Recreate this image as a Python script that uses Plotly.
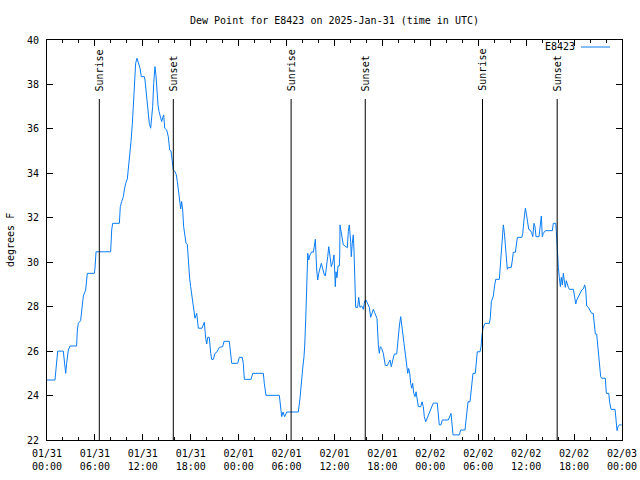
import datetime as dt
import plotly.graph_objects as go

# ---- data ----
start = dt.datetime(2025, 1, 31, 0, 0)

hours_since_start = [
    0.0, 1.0, 1.13, 1.34, 2.04, 2.17, 2.34, 2.46, 2.67, 2.88, 3.71, 3.8, 3.92, 4.21, 4.42, 4.55, 4.84, 5.05,
    5.93, 6.01, 6.14, 7.97, 8.1, 8.22, 9.06, 9.18, 9.35, 9.56, 9.68, 9.85, 10.06, 10.27, 10.39, 10.52, 10.69,
    10.81, 10.94, 11.1, 11.27, 11.44, 11.65, 11.81, 12.19, 12.27, 12.4, 12.56, 12.69, 12.81, 12.98, 13.1, 13.23,
    13.36, 13.52, 13.65, 13.78, 13.9, 14.03, 14.19, 14.36, 14.49, 14.61, 14.74, 14.99, 15.19, 15.36, 15.53, 15.69,
    15.82, 16.03, 16.19, 16.32, 16.44, 16.61, 16.74, 16.86, 16.99, 17.11, 17.28, 17.41, 17.57, 17.69, 17.86,
    17.99, 18.12, 18.28, 18.45, 18.53, 18.75, 18.95, 19.41, 19.57, 19.7, 19.87, 20.0, 20.12, 20.32, 20.5, 20.62,
    20.83, 21.04, 21.25, 21.45, 21.58, 22.0, 22.16, 22.83, 23.0, 23.13, 23.88, 24.08, 24.45, 24.58, 24.71, 25.55,
    25.76, 27.09, 27.21, 27.42, 29.09, 29.21, 29.3, 29.39, 29.55, 29.76, 30.02, 31.47, 31.68, 31.85, 32.02, 32.18,
    32.27, 32.4, 32.52, 32.65, 32.77, 32.93, 33.15, 33.35, 33.47, 33.6, 33.77, 33.9, 34.02, 34.19, 34.35, 34.53,
    34.69, 34.85, 35.03, 35.15, 35.28, 35.44, 35.6, 35.78, 35.94, 36.1, 36.19, 36.31, 36.44, 36.6, 36.65, 36.69,
    36.9, 37.1, 37.44, 37.6, 37.73, 37.85, 38.03, 38.1, 38.23, 38.35, 38.44, 38.57, 38.65, 38.9, 39.03, 39.19,
    39.41, 39.61, 39.78, 39.94, 40.11, 40.36, 40.53, 40.7, 40.86, 41.03, 41.2, 41.32, 41.49, 41.61, 41.74, 41.91,
    42.11, 42.24, 42.36, 42.61, 42.79, 42.95, 43.11, 43.36, 43.49, 43.79, 43.95, 44.12, 44.29, 44.42, 44.54,
    44.71, 44.87, 45.04, 45.17, 45.29, 45.42, 45.54, 45.67, 45.79, 45.92, 46.08, 46.21, 46.37, 46.5, 46.8, 46.96,
    47.12, 47.25, 47.42, 47.67, 47.96, 48.25, 48.37, 48.87, 49.0, 49.12, 49.33, 49.5, 50.25, 50.43, 50.59, 50.67,
    50.84, 51.63, 51.8, 52.34, 52.47, 52.59, 52.72, 52.97, 53.09, 53.22, 53.34, 53.63, 53.76, 53.88, 54.22, 54.35,
    54.47, 54.6, 54.76, 54.85, 55.39, 55.51, 55.64, 55.89, 56.06, 56.19, 56.64, 56.81, 56.94, 57.07, 57.14, 57.27,
    57.39, 57.52, 57.64, 57.77, 58.14, 58.27, 58.39, 58.65, 58.77, 58.9, 59.45, 59.57, 59.73, 59.9, 60.02, 60.15,
    60.32, 60.48, 60.69, 60.82, 60.98, 61.11, 61.23, 61.61, 61.77, 61.9, 62.02, 62.15, 62.4, 63.28, 63.4, 63.7,
    63.78, 63.86, 63.95, 64.03, 64.15, 64.28, 64.4, 64.53, 64.65, 64.78, 64.9, 65.03, 65.15, 65.28, 65.41, 65.91,
    66.08, 66.21, 66.33, 66.53, 66.74, 66.96, 67.16, 67.33, 67.46, 67.58, 67.78, 67.99, 68.2, 68.4, 68.53, 68.66,
    68.83, 68.96, 69.08, 69.21, 69.33, 69.46, 69.91, 70.04, 70.34, 70.46, 70.63, 71.13, 71.25, 71.38, 71.5,
    71.66, 71.96,
]

dew_point_f = [
    24.7, 24.7, 25.2, 26.0, 26.0, 25.5, 25.0, 25.45, 26.05, 26.23, 26.23, 26.95, 27.25, 27.37, 28.0, 28.48, 28.75, 29.5,
    29.5, 29.73, 30.47, 30.47, 31.45, 31.75, 31.75, 32.5, 32.73, 32.95, 33.25, 33.55, 33.75, 34.45, 34.98, 35.43, 36.25,
    37.22, 38.2, 38.95, 39.18, 38.95, 38.73, 38.35, 38.35, 38.2, 37.75, 37.15, 36.7, 36.25, 36.03, 36.4, 37.0,
    38.05, 38.8, 38.4, 37.6, 37.07, 36.78, 36.55, 36.33, 36.5, 36.63, 36.03, 35.95, 35.65, 35.05, 35.0, 34.53,
    34.15, 34.07, 33.93, 33.63, 33.18, 32.73, 32.4, 32.73, 32.35, 31.6, 31.23, 30.85, 30.8, 30.1, 29.28,
    28.9, 28.53, 28.08, 27.63, 27.48, 27.7, 27.03, 27.03, 27.18, 27.3, 26.58, 26.32, 26.62, 26.62, 25.9, 25.63,
    25.63, 25.9, 25.95, 26.05, 26.17, 26.2, 26.44, 26.44, 25.72, 25.45, 25.45, 25.72, 25.72, 25.45, 24.73, 24.73,
    25.0, 25.0, 24.55, 24.01, 24.01, 23.72, 23.27, 23.05, 23.26, 23.05, 23.26, 23.26, 23.88, 24.7, 25.23, 25.75,
    26.23, 27.48, 29.43, 30.4, 30.1, 30.33, 30.47, 30.45, 30.7, 31.03, 29.65, 29.2, 29.5, 29.7, 29.95, 29.7,
    29.47, 29.38, 29.8, 30.25, 30.7, 30.3, 29.8, 30.0, 30.33, 28.9, 29.57, 29.3, 29.83, 29.83, 30.28, 31.68,
    31.15, 30.78, 30.7, 30.65, 31.38, 31.68, 30.9, 30.25, 30.85, 31.23, 30.55, 28.83, 27.97, 27.97, 28.42, 27.97,
    28.03, 27.88, 28.26, 28.3, 28.15, 27.97, 27.52, 27.67, 27.88, 27.73, 27.52, 27.47, 26.28, 25.9, 26.2, 26.13,
    25.9, 25.6, 25.35, 25.35, 25.53, 25.6, 25.3, 25.63, 25.87, 25.87, 26.65, 27.13, 27.55, 27.18, 26.65,
    26.13, 25.9, 25.33, 25.0, 25.22, 25.0, 24.55, 24.33, 24.55, 24.1, 23.95, 24.17, 23.8, 23.5, 23.5, 23.72,
    23.5, 23.05, 22.82, 23.05, 23.27, 23.57, 23.66, 23.66, 23.05, 22.68, 22.68, 22.9, 22.9, 23.05, 23.2, 22.9,
    22.23, 22.23, 22.45, 22.45, 22.82, 23.43, 23.72, 23.72, 24.1, 24.7, 25.0, 25.0, 25.52, 25.97, 25.97, 26.2,
    26.73, 27.03, 27.18, 27.25, 27.25, 27.5, 28.22, 28.48, 28.98, 29.23, 29.23, 29.98, 30.63, 31.3, 31.68, 31.33,
    30.78, 30.03, 29.68, 29.77, 29.77, 30.1, 30.45, 30.45, 30.78, 31.12, 31.12, 31.3, 31.9, 32.43, 32.2, 31.75,
    31.48, 31.45, 31.33, 31.15, 31.75, 31.6, 31.15, 31.15, 31.75, 32.08, 31.15, 31.3, 31.42, 31.42, 31.75, 31.75,
    31.38, 30.78, 30.18, 29.77, 29.32, 28.9, 29.32, 28.98, 29.5, 28.98, 28.87, 29.17, 28.98, 28.87, 28.78, 28.78,
    28.42, 28.12, 28.3, 28.45, 28.6, 28.75, 28.8, 28.98, 28.75, 28.03, 27.97, 27.85, 27.7, 27.7, 27.1, 26.77,
    26.77, 26.28, 25.6, 25.15, 24.85, 24.78, 24.78, 24.1, 24.1, 23.68, 23.38, 23.38, 22.93, 22.42, 22.6,
    22.68, 22.68,
]

sun_event_labels = ["Sunrise", "Sunset", "Sunrise", "Sunset", "Sunrise", "Sunset"]
sun_event_times = ["2025-01-31 06:33", "2025-01-31 15:49", "2025-02-01 06:34",
                   "2025-02-01 15:51", "2025-02-02 06:32", "2025-02-02 15:53"]

x_tick_times = ["2025-01-31 00:00", "2025-01-31 06:00", "2025-01-31 12:00", "2025-01-31 18:00",
                "2025-02-01 00:00", "2025-02-01 06:00", "2025-02-01 12:00", "2025-02-01 18:00",
                "2025-02-02 00:00", "2025-02-02 06:00", "2025-02-02 12:00", "2025-02-02 18:00",
                "2025-02-03 00:00"]
x_tick_labels = ["01/31<br>00:00", "01/31<br>06:00", "01/31<br>12:00", "01/31<br>18:00",
                 "02/01<br>00:00", "02/01<br>06:00", "02/01<br>12:00", "02/01<br>18:00",
                 "02/02<br>00:00", "02/02<br>06:00", "02/02<br>12:00", "02/02<br>18:00",
                 "02/03<br>00:00"]
y_ticks = [22, 24, 26, 28, 30, 32, 34, 36, 38, 40]

series_name = "E8423"
title_text = "Dew Point for E8423 on 2025-Jan-31 (time in UTC)"
y_title = "degrees F"

# ---- figure ----
FONT = "DejaVu Sans Mono"
LINE_COLOR = "#0a7cf5"

times = [start + dt.timedelta(hours=h) for h in hours_since_start]

fig = go.Figure()
fig.add_trace(go.Scatter(x=times, y=dew_point_f, mode="lines", name=series_name,
                         line=dict(color=LINE_COLOR, width=1), showlegend=False))

shapes = []
annotations = []
for lbl, t in zip(sun_event_labels, sun_event_times):
    shapes.append(dict(type="line", xref="x", yref="paper", x0=t, x1=t, y0=0, y1=0.8525,
                       line=dict(color="black", width=1)))
    annotations.append(dict(text=lbl, x=t, xref="x", y=0.867, yref="paper", xanchor="center",
                            yanchor="bottom", textangle=-90, showarrow=False,
                            font=dict(family=FONT, size=10, color="black")))

# legend key (gnuplot style: text then sample line)
annotations.append(dict(text=series_name, x=(577 - 47) / 575, xref="paper", y=(440 - 47) / 400,
                        yref="paper", xanchor="right", yanchor="middle", showarrow=False,
                        font=dict(family=FONT, size=10, color="black")))
shapes.append(dict(type="line", xref="paper", yref="paper", x0=(581 - 47) / 575, x1=(610 - 47) / 575,
                   y0=(440 - 47) / 400, y1=(440 - 47) / 400, line=dict(color=LINE_COLOR, width=1)))

annotations.append(dict(text=y_title, x=(10 - 47) / 575, xref="paper", y=0.5, yref="paper",
                        xanchor="center", yanchor="middle", textangle=-90, showarrow=False,
                        font=dict(family=FONT, size=10, color="black")))

fig.update_layout(
    width=640, height=480,
    margin=dict(l=47, r=18, t=40, b=40, autoexpand=False),
    paper_bgcolor="white", plot_bgcolor="white",
    font=dict(family=FONT, size=10, color="black"),
    title=dict(text=title_text, x=0.5, xref="paper", xanchor="center", y=1 - 20 / 480,
               yanchor="middle", font=dict(family=FONT, size=10, color="black")),
    shapes=shapes, annotations=annotations,
    showlegend=False,
)

fig.update_xaxes(
    type="date", range=[x_tick_times[0], x_tick_times[-1]],
    tickmode="array", tickvals=x_tick_times, ticktext=x_tick_labels,
    ticks="inside", ticklen=6, tickcolor="black", tickwidth=1,
    minor=dict(ticks="inside", ticklen=3, dtick=2 * 3600 * 1000, tick0=x_tick_times[0],
               tickcolor="black", tickwidth=1, showgrid=False),
    showline=True, linecolor="black", linewidth=1, mirror="ticks",
    showgrid=False, zeroline=False, ticklabelstandoff=4,
)
fig.update_yaxes(
    range=[22, 40], tickmode="array", tickvals=y_ticks, ticktext=[str(v) for v in y_ticks],
    ticks="inside", ticklen=6, tickcolor="black", tickwidth=1,
    showline=True, linecolor="black", linewidth=1, mirror="ticks",
    showgrid=False, zeroline=False, ticklabelstandoff=5,
)

fig.write_html("out.html")
